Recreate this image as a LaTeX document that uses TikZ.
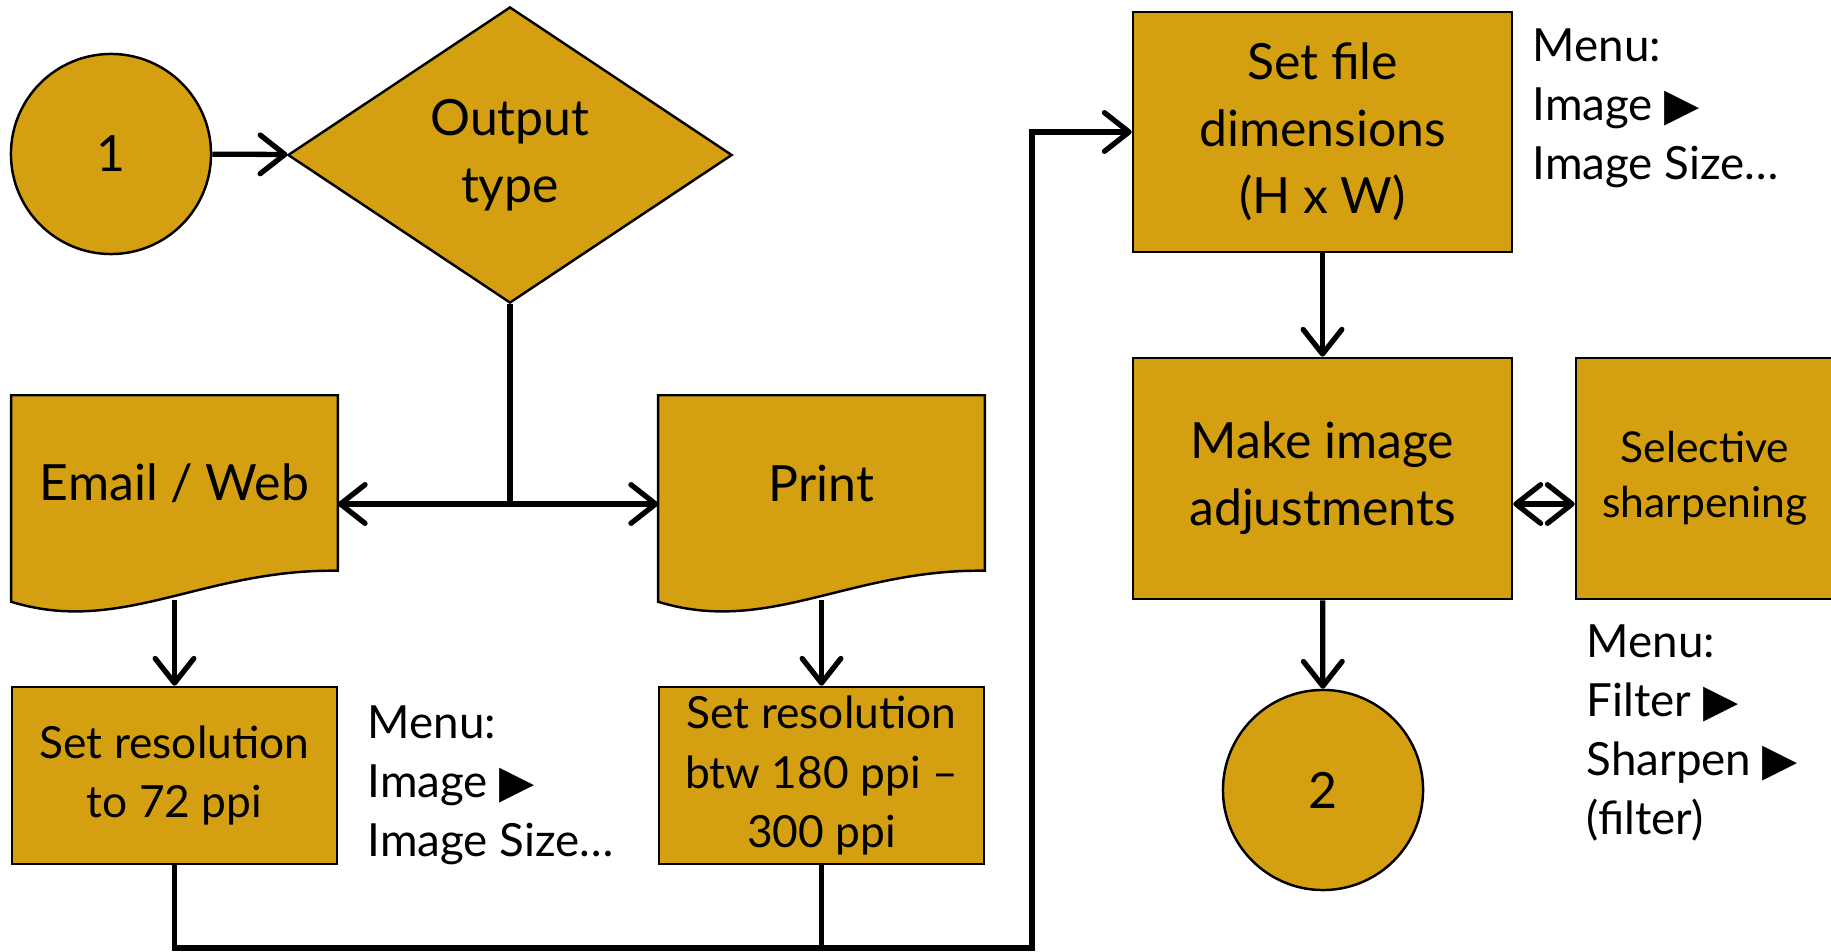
\documentclass[tikz,border=0pt]{standalone}
\usepackage{fontspec}
\setmainfont{Lato}
\newfontfamily\symfont{DejaVu Sans}
\usetikzlibrary{arrows.meta,calc,positioning,shapes.geometric,backgrounds}
\definecolor{StepGold}{RGB}{212,160,18}
\newcommand{\bigfont}{\fontsize{14.2}{19}\selectfont}
\newcommand{\midfont}{\fontsize{12.6}{17}\selectfont}
\newcommand{\smallfont}{\fontsize{12.1}{15.6}\selectfont}
\newcommand{\menufont}{\fontsize{13}{16.8}\selectfont}
\newcommand{\tri}{{\symfont\fontsize{13}{13}\selectfont ▶}}
\newcommand{\docshape}[1]{%
  \begin{scope}[on background layer]
  \filldraw[shapeline] (#1.north west)--(#1.north east)--(#1.south east)
    .. controls ($(#1.south east)+(-135,-2)$) and ($(#1.south west)+(110,65)$)
    .. ($(#1.south west)+(0,31)$) -- cycle;
  \end{scope}
  \coordinate (#1-tail) at ($(#1.south)+(0,29)$);}

\begin{document}
\begin{tikzpicture}[x=0.01cm,y=-0.01cm,
  shapeline/.style={draw=black,fill=StepGold,line width=0.7pt},
  stepbox/.style={shapeline,rectangle,inner sep=0pt,align=center},
  docbox/.style={rectangle,inner sep=0pt,align=center,font=\bigfont,
    minimum width=3.25cm,minimum height=1.74cm},
  startend/.style={shapeline,circle,minimum size=2cm,inner sep=0pt,font=\bigfont},
  menutext/.style={align=left,inner sep=0pt,anchor=west,font=\menufont},
  flow/.style={line width=1.5pt,-{Straight Barb[length=7pt,width=11pt,round]}},
  link/.style={line width=1.5pt}]
  \useasboundingbox (0,0) rectangle (1831,952);
  \clip (0,0) rectangle (1831,952);

  \node[startend] (start) at (111,154) {1};
  \node[shapeline,diamond,inner sep=0pt,align=center,font=\bigfont,
    minimum width=4.44cm,minimum height=2.96cm] (type) at (510,155) {Output\\type};
  \node[docbox] (email) at (174.5,483) {Email / Web};
  \node[docbox] (print) at (821.5,483) {Print};
  \docshape{email}
  \docshape{print}
  \node[stepbox,font=\midfont,minimum width=3.25cm,minimum height=1.77cm]
    (res72) at (174.5,775.5) {Set resolution\\to 72 ppi};
  \node[stepbox,font=\midfont,minimum width=3.25cm,minimum height=1.77cm]
    (resbtw) at (821.5,775.5) {Set resolution\\btw 180 ppi –\\300 ppi};
  \node[menutext] (menu1) at (367,785) {Menu:\\Image \tri\\Image Size…};

  \node[stepbox,font=\bigfont,minimum width=3.79cm,minimum height=2.4cm]
    (setfile) at (1322.5,132) {Set file\\dimensions\\(H x W)};
  \node[menutext] (menu2) at (1532,108) {Menu:\\Image \tri\\Image Size…};
  \node[stepbox,font=\bigfont,minimum width=3.79cm,minimum height=2.41cm]
    (adjust) at (1322.5,478.5) {Make image\\adjustments};
  \node[stepbox,font=\smallfont,minimum width=2.58cm,minimum height=2.41cm]
    (sharpen) at (1705,478.5) {Selective\\sharpening};
  \node[menutext] (menu3) at (1586,733) {Menu:\\Filter \tri\\Sharpen \tri\\(filter)};
  \node[startend] (finish) at (1323,790) {2};

  \coordinate (split) at (510,504);
  \coordinate (join) at (1032,948);

  \draw[flow] (start) -- (type);
  \draw[link] (type.south) -- (split);
  \draw[flow] (split) -- (split -| email.east);
  \draw[flow] (split) -- (split -| print.west);
  \draw[flow] (email-tail) -- (res72.north);
  \draw[flow] (print-tail) -- (resbtw.north);
  \draw[link] (resbtw.south) -- (resbtw.south |- join);
  \draw[flow] (res72.south) |- (join) |- (setfile.west);
  \draw[flow] (setfile) -- (adjust);
  \draw[flow] (adjust) -- (finish);
  \draw[flow,{Straight Barb[length=7pt,width=11pt,round]}-{Straight Barb[length=7pt,width=11pt,round]}]
    (adjust.east |- split) -- (sharpen.west |- split);
\end{tikzpicture}
\end{document}
